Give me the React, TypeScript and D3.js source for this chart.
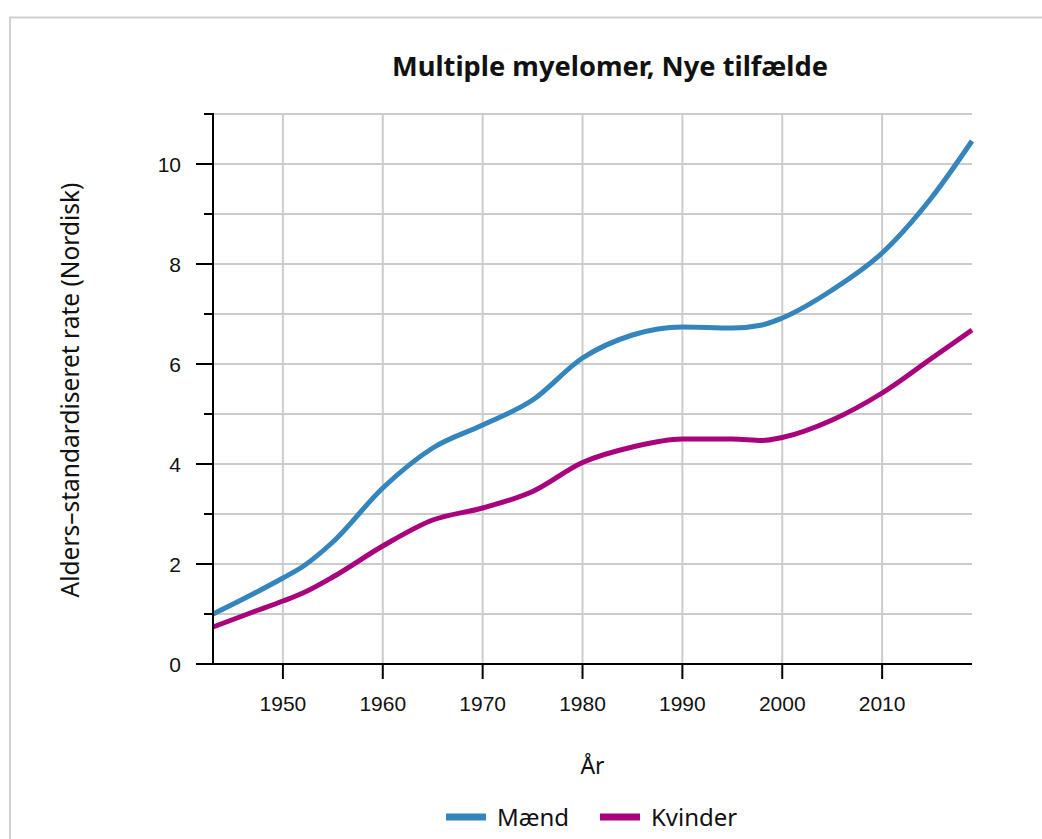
import * as d3 from "d3";
import { useEffect, useRef } from "react";

const years = [1943, 1947, 1950, 1952, 1955, 1960, 1965, 1970, 1975, 1980, 1985, 1990, 1995, 1998, 2000, 2005, 2010, 2015, 2019];
const maend = [1.0, 1.4, 1.72, 1.95, 2.44, 3.52, 4.32, 4.78, 5.28, 6.12, 6.58, 6.74, 6.72, 6.78, 6.92, 7.48, 8.22, 9.34, 10.46];
const kvinder = [0.74, 1.04, 1.26, 1.42, 1.74, 2.36, 2.88, 3.12, 3.45, 4.03, 4.34, 4.5, 4.5, 4.47, 4.53, 4.88, 5.42, 6.12, 6.68];
const xTicks = [1950, 1960, 1970, 1980, 1990, 2000, 2010];
const yTicks = [0, 1, 2, 3, 4, 5, 6, 7, 8, 9, 10, 11];

const series = [
  { name: "Mænd", values: maend, color: "#3585bd" },
  { name: "Kvinder", values: kvinder, color: "#a8037d" },
];

const W = 1042;
const H = 839;
const M = { left: 213, right: 972, top: 114, bottom: 664 };

export default function App() {
  const ref = useRef<SVGSVGElement>(null);

  useEffect(() => {
    if (!ref.current) return;
    const svg = d3.select(ref.current);
    svg.selectAll("*").remove();

    const x = d3.scaleLinear().domain([1943, 2019]).range([M.left, M.right]);
    const y = d3.scaleLinear().domain([0, 11]).range([M.bottom, M.top]);

    // frame
    svg.append("rect")
      .attr("x", 10).attr("y", 17.5)
      .attr("width", W + 20).attr("height", H + 20)
      .attr("fill", "white").attr("stroke", "#d0d0d0").attr("stroke-width", 2);

    // grid
    const grid = svg.append("g").attr("stroke", "#cccccc").attr("stroke-width", 2);
    grid.selectAll("line.h")
      .data(yTicks.filter((d) => d > 0))
      .join("line")
      .attr("class", "h")
      .attr("x1", M.left).attr("x2", M.right)
      .attr("y1", (d) => y(d)).attr("y2", (d) => y(d));
    grid.selectAll("line.v")
      .data(xTicks)
      .join("line")
      .attr("class", "v")
      .attr("x1", (d) => x(d)).attr("x2", (d) => x(d))
      .attr("y1", M.top).attr("y2", M.bottom);

    // lines
    const line = d3.line<number>()
      .x((_, i) => x(years[i]))
      .y((d) => y(d))
      .curve(d3.curveMonotoneX);
    svg.append("g")
      .selectAll("path")
      .data(series)
      .join("path")
      .attr("d", (s) => line(s.values))
      .attr("fill", "none")
      .attr("stroke", (s) => s.color)
      .attr("stroke-width", 5);

    // y axis
    const ya = svg.append("g").attr("stroke", "#000").attr("stroke-width", 2);
    ya.append("line").attr("x1", M.left).attr("x2", M.left).attr("y1", M.top - 1).attr("y2", M.bottom);
    ya.selectAll("line.t")
      .data(yTicks)
      .join("line")
      .attr("class", "t")
      .attr("x1", (d) => (d % 2 === 0 ? M.left - 17 : M.left - 9))
      .attr("x2", M.left)
      .attr("y1", (d) => y(d)).attr("y2", (d) => y(d));
    svg.append("g")
      .selectAll("text")
      .data(yTicks.filter((d) => d % 2 === 0))
      .join("text")
      .attr("x", 181)
      .attr("y", (d) => y(d))
      .attr("dy", "0.36em")
      .attr("text-anchor", "end")
      .attr("font-family", "Liberation Sans, Arial, sans-serif")
      .attr("font-size", 21)
      .attr("fill", "#111")
      .text((d) => d);

    // x axis
    const xa = svg.append("g").attr("stroke", "#000").attr("stroke-width", 2);
    xa.append("line").attr("x1", M.left - 1).attr("x2", M.right).attr("y1", M.bottom).attr("y2", M.bottom);
    xa.selectAll("line.t")
      .data(xTicks)
      .join("line")
      .attr("class", "t")
      .attr("x1", (d) => x(d)).attr("x2", (d) => x(d))
      .attr("y1", M.bottom).attr("y2", M.bottom + 15);
    svg.append("g")
      .selectAll("text")
      .data(xTicks)
      .join("text")
      .attr("x", (d) => x(d))
      .attr("y", 711)
      .attr("text-anchor", "middle")
      .attr("font-family", "Liberation Sans, Arial, sans-serif")
      .attr("font-size", 21)
      .attr("fill", "#111")
      .text((d) => d);

    // titles
    svg.append("text")
      .attr("x", 610).attr("y", 76)
      .attr("text-anchor", "middle")
      .attr("font-family", "Noto Sans, sans-serif")
      .attr("font-weight", "bold")
      .attr("font-size", 26)
      .attr("fill", "#111")
      .attr("textLength", 436)
      .attr("lengthAdjust", "spacingAndGlyphs")
      .text("Multiple myelomer, Nye tilfælde");

    svg.append("text")
      .attr("transform", `translate(79,${(M.top + M.bottom) / 2 + 1}) rotate(-90)`)
      .attr("text-anchor", "middle")
      .attr("font-family", "Noto Sans, sans-serif")
      .attr("font-size", 24.5)
      .attr("fill", "#111")
      .text("Alders–standardiseret rate (Nordisk)");

    svg.append("text")
      .attr("x", (M.left + M.right) / 2).attr("y", 774)
      .attr("text-anchor", "middle")
      .attr("font-family", "Noto Sans, sans-serif")
      .attr("font-size", 23)
      .attr("fill", "#111")
      .text("År");

    // legend
    const legX = [446, 600];
    const leg = svg.append("g")
      .selectAll("g")
      .data(series)
      .join("g")
      .attr("transform", (_, i) => `translate(${legX[i]},817)`);
    leg.append("line")
      .attr("x1", 0).attr("x2", 40)
      .attr("stroke", (s) => s.color)
      .attr("stroke-width", 7);
    leg.append("text")
      .attr("x", 51).attr("dy", "0.36em")
      .attr("font-family", "Noto Sans, sans-serif")
      .attr("font-size", 24)
      .attr("fill", "#111")
      .text((s) => s.name);
  }, []);

  return (
    <div style={{ position: "absolute", left: 0, top: 0 }}>
      <svg ref={ref} width={W} height={H} style={{ display: "block" }} />
    </div>
  );
}
